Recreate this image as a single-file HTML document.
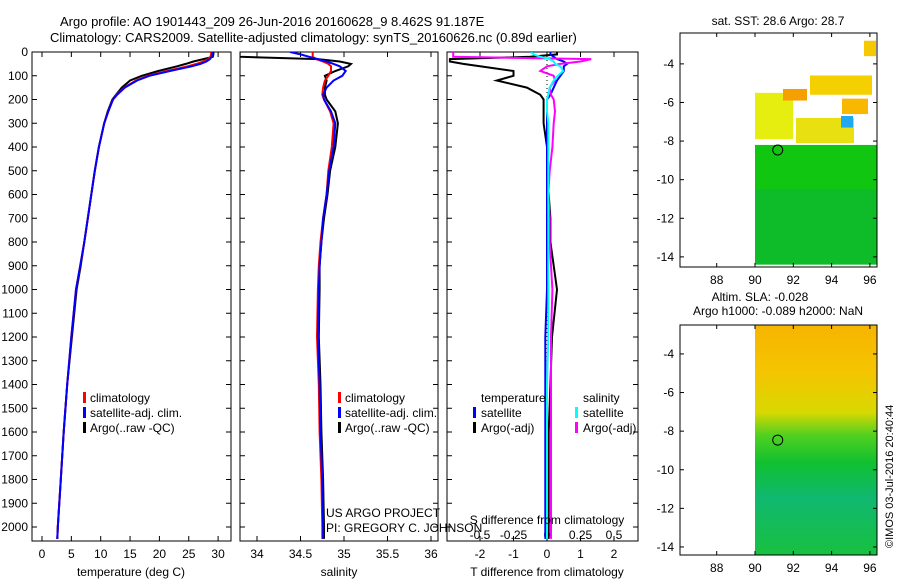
<!DOCTYPE html>
<html><head><meta charset="utf-8"><style>
body{margin:0;background:#fff;}
svg{display:block;font-family:"Liberation Sans",sans-serif;font-size:12px;}
</style></head><body>
<svg id="chart" width="900" height="580" viewBox="0 0 900 580">
<rect width="900" height="580" fill="#fff"/>
<text x="60" y="26" font-size="13">Argo profile: AO 1901443_209 26-Jun-2016 20160628_9 8.462S 91.187E</text>
<text x="50" y="42" font-size="13">Climatology: CARS2009. Satellite-adjusted climatology: synTS_20160626.nc (0.89d earlier)</text>
<g id="plots"></g>
<text transform="translate(893,548) rotate(-90)" font-size="11">©IMOS 03-Jul-2016 20:40:44</text>
</svg>
<script>
const depths=[0,10,20,30,40,50,60,80,100,120,150,180,200,250,300,400,500,600,700,800,900,1000,1200,1400,1600,1800,2000,2050];
const tempClim=[28.8,28.8,28.7,28.3,27.5,26.3,24.8,21.3,18.0,16.0,14.0,12.7,12.1,11.3,10.6,9.7,9.0,8.4,7.8,7.2,6.5,5.8,5.0,4.3,3.7,3.2,2.7,2.6];
const tempSat=[29.0,29.0,28.9,28.6,28.0,27.0,25.5,21.8,18.3,16.2,14.1,12.8,12.1,11.3,10.6,9.7,9.0,8.4,7.8,7.2,6.5,5.8,5.0,4.3,3.7,3.2,2.7,2.6];
const tempArgo=[29.2,29.2,29.1,27.5,25.8,24.5,23.0,19.8,17.0,15.0,13.6,12.6,12.0,11.2,10.6,9.7,9.0,8.4,7.8,7.2,6.6,5.9,5.1,4.3,3.7,3.2,2.7,2.6];
const salClim=[34.64,34.64,34.64,34.68,34.76,34.82,34.85,34.85,34.82,34.78,34.76,34.75,34.77,34.84,34.88,34.86,34.82,34.80,34.76,34.73,34.71,34.70,34.69,34.71,34.72,34.74,34.75,34.75];
const salSat=[34.38,34.5,34.6,34.7,34.8,34.88,34.95,35.02,34.98,34.88,34.8,34.76,34.77,34.85,34.9,34.88,34.83,34.80,34.76,34.74,34.72,34.71,34.70,34.72,34.73,34.75,34.76,34.76];
const salArgo=[33.8,33.8,33.8,34.7,34.95,35.08,35.05,34.9,34.78,34.80,34.78,34.78,34.8,34.9,34.93,34.9,34.84,34.81,34.77,34.74,34.72,34.72,34.71,34.73,34.74,34.76,34.77,34.77];
const tdiffSat=[0.1,0.1,0.2,0.3,0.5,0.6,0.5,0.5,0.4,0.3,0.2,0.1,0,0,0,0,0,0,0,0,0,0,-0.05,-0.05,-0.05,-0.05,-0.05,-0.05];
const tdiffArgo=[0.3,0.3,-0.5,-2.9,-2.9,-2.5,-2.0,-1.0,-1.0,-1.5,-0.6,-0.2,-0.1,-0.1,-0.1,0,0,0.05,0.1,0.1,0.2,0.3,0.15,0.1,0.05,0.05,0.05,0.05];
const sdiffSat=[-0.12,-0.1,-0.05,0.02,0.05,0.06,0.1,0.12,0.08,0.05,0.02,0.01,0,0,0.01,0.01,0.01,0.01,0.01,0.01,0.01,0.01,0.01,0,0,0,0,0];
const sdiffArgo=[-0.7,-0.7,-0.7,0.33,0.25,0.1,0.0,-0.05,0.05,0.06,0.02,0.03,0.05,0.06,0.05,0.04,0.02,0.01,0.02,0.02,0.03,0.04,0.03,0.03,0.03,0.03,0.03,0.03];
const depthTicks=[0,100,200,300,400,500,600,700,800,900,1000,1100,1200,1300,1400,1500,1600,1700,1800,1900,2000];
const tempTicks=[0,5,10,15,20,25,30];
const salTicks=[34,34.5,35,35.5,36];
const tdTicks=[-2,-1,0,1,2];
const sdTicks=[-0.5,-0.25,0,0.25,0.5];
const sdLabels=["-0.5","-0.25","0","0.25","0.5"];

const NS="http://www.w3.org/2000/svg";
const g=document.getElementById('plots');
function el(t,a,p){const e=document.createElementNS(NS,t);for(const k in a)e.setAttribute(k,a[k]);(p||g).appendChild(e);return e;}
const yD=d=>52+d*0.2375;
const plotTop=52,bot=541;
function frame(x0,x1,name){
  const r=el('rect',{x:x0,y:plotTop,width:x1-x0,height:bot-plotTop,fill:'none',stroke:'#000'});
  
  
}
function xticks(ticks,labels,xf,ty,name){
  ticks.forEach((t,i)=>{
    const x=xf(t);
    el('line',{x1:x,x2:x,y1:bot,y2:bot-5,stroke:'#000'});
    el('line',{x1:x,x2:x,y1:plotTop,y2:plotTop+5,stroke:'#000'});
    const tx=el('text',{x:x,y:ty,'text-anchor':'middle'});tx.textContent=labels[i];
    
    
  });
}
function yticks(x0,x1,lab){
  depthTicks.forEach(d=>{
    const y=yD(d);
    el('line',{x1:x0,x2:x0+5,y1:y,y2:y,stroke:'#000'});
    el('line',{x1:x1,x2:x1-5,y1:y,y2:y,stroke:'#000'});
    if(lab){const t=el('text',{x:28,y:y+4,'text-anchor':'end'});t.textContent=d;
      
      }
  });
}
function text(x,y,s,name,anchor){const t=el('text',{x:x,y:y,'text-anchor':anchor||'start'});t.textContent=s;
  
  return t;}
function legMark(x,y,col){el('rect',{x:x,y:y-10,width:3,height:11,fill:col});}
function lineIn(gr,vals,xf,col,w,name){
  const pts=vals.map((v,i)=>xf(v).toFixed(1)+','+yD(depths[i]).toFixed(1)).join(' ');
  const p=el('polyline',{points:pts,fill:'none',stroke:col,'stroke-width':w},gr);
  
  
}

// Panel 1 temperature
const xT=v=>42+v*5.87;
frame(32,231,'temperature-panel');
yticks(32,231,true);
xticks(tempTicks,tempTicks.map(String),xT,558,'temperature-tick-label');
const cp1=el('clipPath',{id:'c1'});el('rect',{x:32,y:plotTop,width:199,height:bot-plotTop},cp1);
const tg=el('g',{'clip-path':'url(#c1)'});
lineIn(tg,tempArgo,xT,'#000',2,'temp-argo-line');
lineIn(tg,tempClim,xT,'#f00',2,'temp-climatology-line');
lineIn(tg,tempSat,xT,'#00f',2,'temp-satellite-line');
text(131,576,'temperature (deg C)','temperature-axis-title','middle');
[['#f00','climatology'],['#00f','satellite-adj. clim.'],['#000','Argo(..raw -QC)']].forEach((l,i)=>{legMark(83,402+15*i,l[0]);text(90,402+15*i,l[1],'temp-legend-entry');});

// Panel 2 salinity
const xS=v=>257+(v-34)*87;
frame(240,438,'salinity-panel');
yticks(240,438,false);
xticks(salTicks,salTicks.map(String),xS,558,'salinity-tick-label');
const cp=el('clipPath',{id:'c2'});el('rect',{x:240,y:plotTop,width:198,height:bot-plotTop},cp);
const sg=el('g',{'clip-path':'url(#c2)'});
lineIn(sg,salArgo,xS,'#000',2,'sal-argo-line');
lineIn(sg,salClim,xS,'#f00',2,'sal-climatology-line');
lineIn(sg,salSat,xS,'#00f',2,'sal-satellite-line');
text(339,576,'salinity','salinity-axis-title','middle');
[['#f00','climatology'],['#00f','satellite-adj. clim.'],['#000','Argo(..raw -QC)']].forEach((l,i)=>{legMark(338,402+15*i,l[0]);text(345,402+15*i,l[1],'sal-legend-entry');});
text(326,517,'US ARGO PROJECT','project-label');
text(326,532,'PI: GREGORY C. JOHNSON','pi-label');

// Panel 3 differences
const xTD=v=>547+v*33.5;
const xSD=v=>547+v*134;
frame(447,638,'difference-panel');
yticks(447,638,false);
xticks(tdTicks,tdTicks.map(String),xTD,558,'tdiff-tick-label');
sdTicks.forEach((t,i)=>text(xSD(t),539,sdLabels[i],'sdiff-tick-label','middle'));
const cp3=el('clipPath',{id:'c3'});el('rect',{x:447,y:plotTop,width:191,height:bot-plotTop},cp3);
const dg=el('g',{'clip-path':'url(#c3)'});
el('line',{x1:547,x2:547,y1:plotTop,y2:bot,stroke:'#000','stroke-dasharray':'1,3'},dg);
lineIn(dg,tdiffArgo,xTD,'#000',2,'tdiff-argo-line');
lineIn(dg,tdiffSat,xTD,'#00f',2,'tdiff-satellite-line');
lineIn(dg,sdiffArgo,xSD,'#f0f',2,'sdiff-argo-line');
lineIn(dg,sdiffSat,xSD,'#0ff',2,'sdiff-satellite-line');
text(547,524,'S difference from climatology','sdiff-axis-title','middle');
text(547,576,'T difference from climatology','tdiff-axis-title','middle');
text(481,402,'temperature','legend-temperature-header');
text(583,402,'salinity','legend-salinity-header');
legMark(473,417,'#00f');text(481,417,'satellite','legend-tdiff-satellite');
legMark(473,432,'#000');text(481,432,'Argo(-adj)','legend-tdiff-argo');
legMark(575,417,'#0ff');text(583,417,'satellite','legend-sdiff-satellite');
legMark(575,432,'#f0f');text(583,432,'Argo(-adj)','legend-sdiff-argo');

// Maps
const lonX=l=>755+(l-90)*19.15;
function map(y0,y1,lat0,name,fillFn){
  const latY=l=>y0+(lat0-l)*19.3;
  fillFn(latY);
  const r=el('rect',{x:680,y:y0,width:197,height:y1-y0,fill:'none',stroke:'#000'});
  
  
  [88,90,92,94,96].forEach(l=>{const x=lonX(l);el('line',{x1:x,x2:x,y1:y1,y2:y1-4,stroke:'#000'});el('line',{x1:x,x2:x,y1:y0,y2:y0+4,stroke:'#000'});text(x,y1+17,String(l),'map-lon-label','middle');});
  [-4,-6,-8,-10,-12,-14].forEach(l=>{const y=latY(l);el('line',{x1:680,x2:684,y1:y,y2:y,stroke:'#000'});el('line',{x1:877,x2:873,y1:y,y2:y,stroke:'#000'});text(674,y+4,String(l),'map-lat-label','end');});
  const c=el('circle',{cx:lonX(91.187),cy:latY(-8.462),r:5,fill:'none',stroke:'#000'});
  
  
}
text(778,25,'sat. SST: 28.6 Argo: 28.7','sst-map-title','middle');
map(33,267,-2.4,'sst-map',latY=>{
  el('rect',{x:755,y:latY(-8.2),width:122,height:latY(-14.4)-latY(-8.2),fill:'#11c611'});
  el('rect',{x:755,y:latY(-10.5),width:122,height:latY(-14.4)-latY(-10.5),fill:'#0cb040',opacity:0.5});
  el('rect',{x:755,y:latY(-5.5),width:38,height:latY(-7.9)-latY(-5.5),fill:'#e6ee10'});
  el('rect',{x:796,y:latY(-6.8),width:58,height:latY(-8.1)-latY(-6.8),fill:'#e8e010'});
  el('rect',{x:810,y:latY(-4.6),width:62,height:latY(-5.6)-latY(-4.6),fill:'#f5d000'});
  el('rect',{x:783,y:latY(-5.3),width:24,height:latY(-5.9)-latY(-5.3),fill:'#f5a000'});
  el('rect',{x:842,y:latY(-5.8),width:26,height:latY(-6.6)-latY(-5.8),fill:'#f8b800'});
  el('rect',{x:841,y:latY(-6.7),width:12,height:latY(-7.3)-latY(-6.7),fill:'#20a8f0'});
  el('rect',{x:864,y:latY(-2.8),width:12,height:latY(-3.6)-latY(-2.8),fill:'#f5c800'});
});
text(760,301,'Altim. SLA: -0.028','sla-map-title','middle');
text(778,315,'Argo h1000: -0.089 h2000: NaN','argo-height-label','middle');
const gd=el('linearGradient',{id:'sla',x1:0,y1:0,x2:0,y2:1});
[[0,'#f7b400'],[0.2,'#f5c400'],[0.38,'#d8d800'],[0.48,'#50d020'],[0.6,'#10c030'],[0.75,'#10b870'],[1,'#18c040']].forEach(s=>el('stop',{offset:s[0],'stop-color':s[1]},gd));
map(325,555,-2.5,'sla-map',latY=>{
  el('rect',{x:755,y:325,width:122,height:230,fill:'url(#sla)'});
});
</script>
</body></html>
